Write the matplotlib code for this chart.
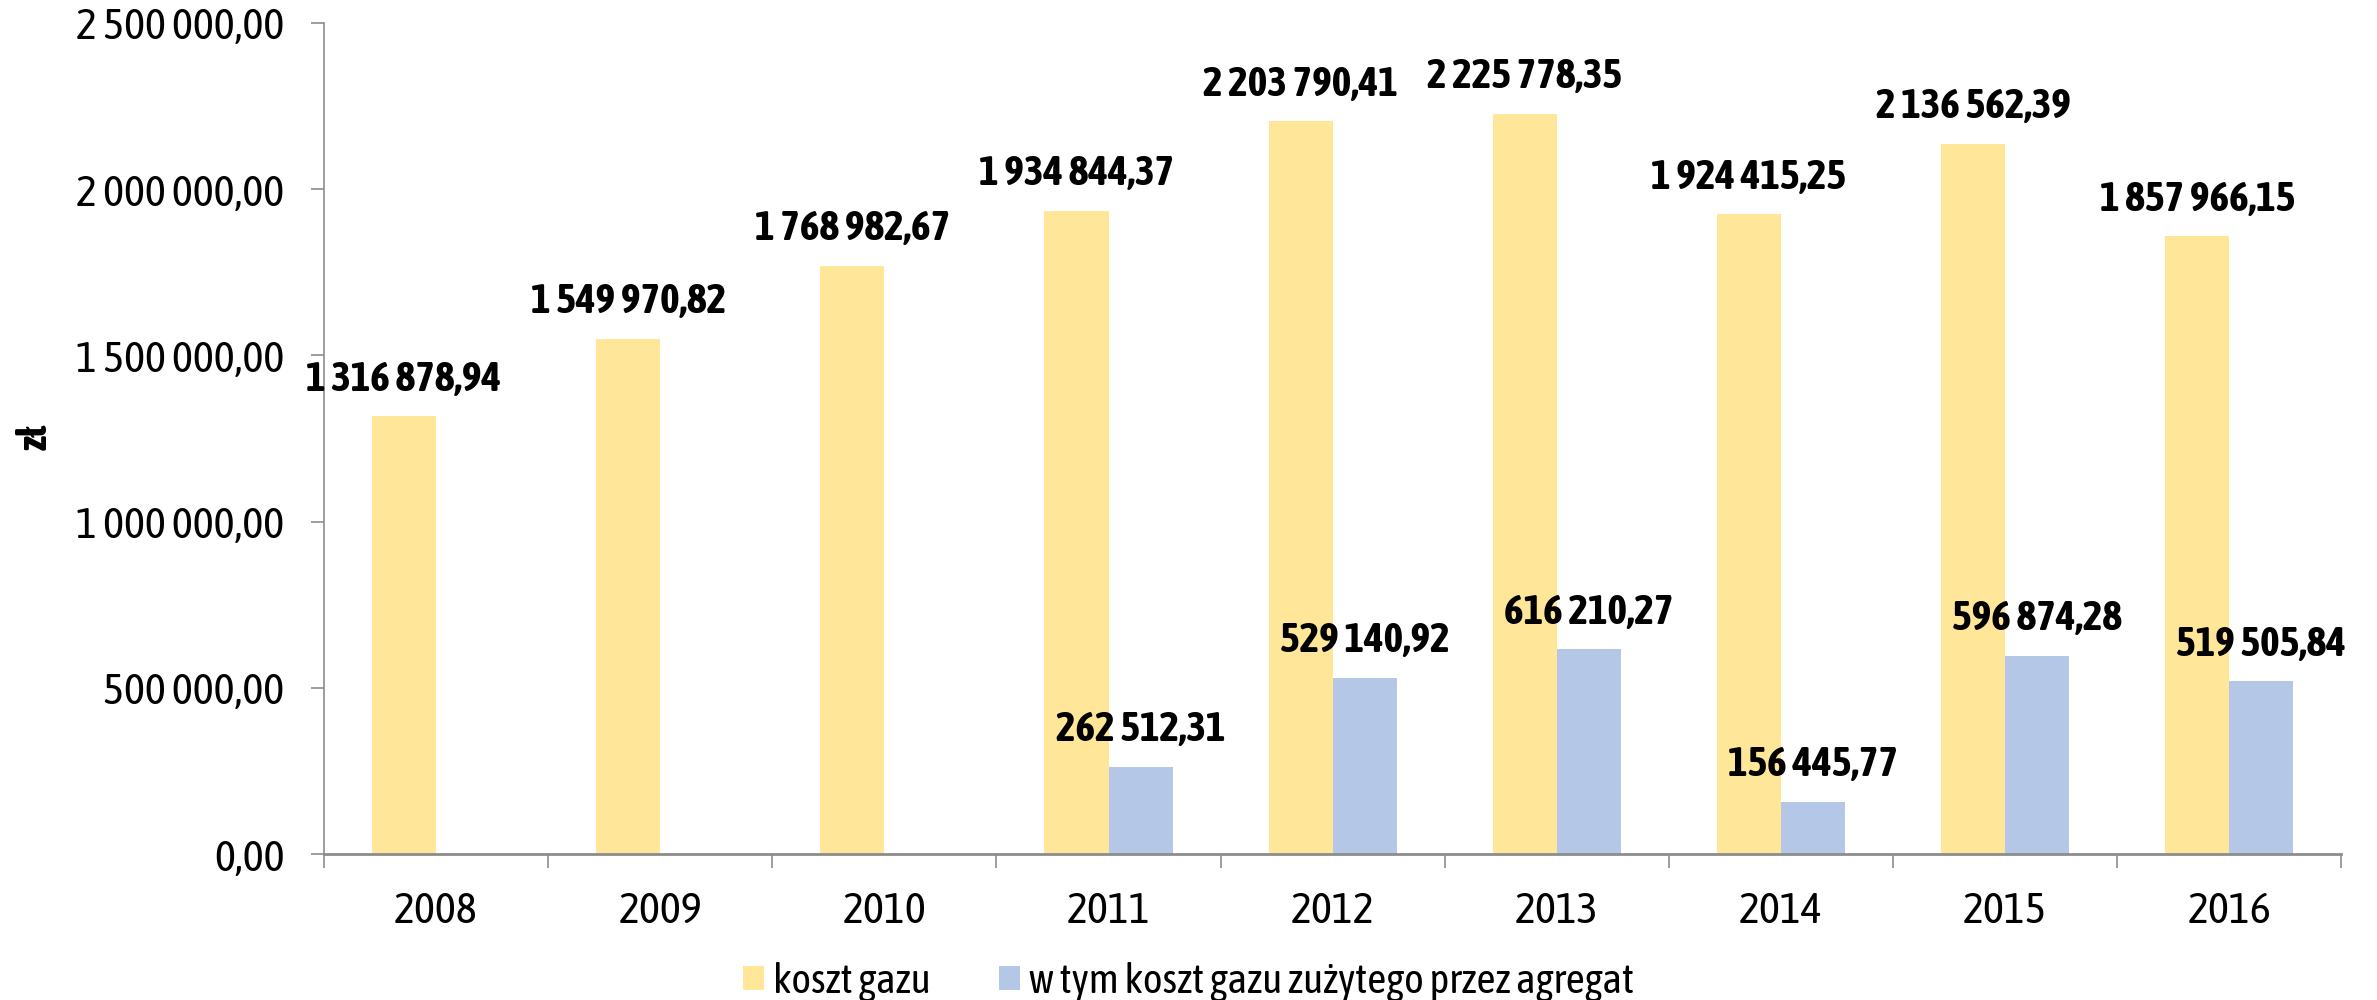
import numpy as np
import matplotlib
matplotlib.use('Agg')
import matplotlib.pyplot as plt

years = ['2008', '2009', '2010', '2011', '2012', '2013', '2014', '2015', '2016']
koszt_gazu = [1316878.94, 1549970.82, 1768982.67, 1934844.37, 2203790.41,
              2225778.35, 1924415.25, 2136562.39, 1857966.15]
koszt_agregat = [np.nan, np.nan, np.nan, 262512.31, 529140.92,
                 616210.27, 156445.77, 596874.28, 519505.84]
series_names = ['koszt gazu', 'w tym koszt gazu zużytego przez agregat']

# narrow font, falls back if not there
plt.rcParams['font.family'] = ['Asap Condensed', 'Barlow Semi Condensed', 'Liberation Sans', 'DejaVu Sans']


def pl(v):
    # polish format: space thousands, comma decimal
    s = f'{v:,.2f}'
    return s.replace(',', ' ').replace('.', ',')


fig = plt.figure(figsize=(23.77, 10), dpi=100)
ax = fig.add_axes([0.1363, 0.146, 0.8487, 0.831])

x = np.arange(len(years))
w = 1 / 3.5
c1 = '#FFE699'
c2 = '#B4C7E7'
b1 = ax.bar(x - w / 2, koszt_gazu, w, color=c1, label=series_names[0])
b2 = ax.bar(x + w / 2, np.nan_to_num(koszt_agregat), w, color=c2, label=series_names[1])

for xi, v in zip(x, koszt_gazu):
    ax.annotate(pl(v), (xi - w / 2, v), xytext=(0, 12), textcoords='offset points',
                ha='center', va='bottom', fontsize=30, fontweight='bold')
for xi, v in zip(x, koszt_agregat):
    if np.isnan(v):
        continue
    ax.annotate(pl(v), (xi + w / 2, v), xytext=(0, 12), textcoords='offset points',
                ha='center', va='bottom', fontsize=30, fontweight='bold')

ax.set_xlim(-0.5, len(years) - 0.5)
ax.set_ylim(0, 2500000)
yt = np.arange(0, 2500001, 500000)
ax.set_yticks(yt)
ax.set_yticklabels([pl(t) for t in yt], fontsize=32)
ax.set_xticks(x)
ax.set_xticklabels(years, fontsize=32)
ax.tick_params(axis='x', length=0, pad=26)
ax.set_xticks(np.arange(-0.5, len(years)), minor=True)
ax.tick_params(axis='x', which='minor', length=10, color='#8c8c8c', width=1.2)
ax.tick_params(axis='y', length=9.5, color='#8c8c8c', width=1.2, pad=19)

for s in ['top', 'right']:
    ax.spines[s].set_visible(False)
ax.spines['left'].set_color('#8c8c8c')
ax.spines['bottom'].set_color('#8c8c8c')
ax.spines['left'].set_linewidth(1.2)
ax.spines['bottom'].set_linewidth(2)

ax.set_ylabel('zł', fontsize=30, fontweight='bold', va='center', ha='center')
ax.yaxis.set_label_coords(-0.143, 0.502)

fig.legend(handles=[b1, b2], loc='center', bbox_to_anchor=(0.5, 0.018), ncol=2,
           frameon=False, fontsize=30, handlelength=0.5, handleheight=0.5,
           columnspacing=1.65, handletextpad=0.22)

fig.savefig('out.png', dpi=100)
